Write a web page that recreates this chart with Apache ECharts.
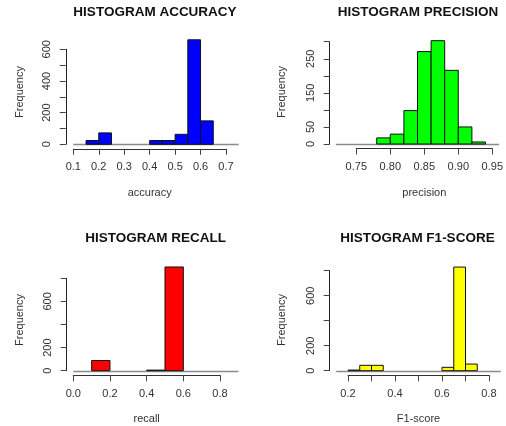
<!DOCTYPE html>
<html>
<head>
<meta charset="utf-8">
<script src="https://cdn.jsdelivr.net/npm/echarts@6/dist/echarts.min.js"></script>
<style>
html,body{margin:0;padding:0;background:#fff;}
#c{width:506px;height:426px;}
</style>
</head>
<body>
<div id="c"></div>
<script>
// ---- data ----
const accBreaks = [0.15, 0.20, 0.25, 0.30, 0.35, 0.40, 0.45, 0.50, 0.55, 0.60, 0.65];
const accCounts = [24, 72, 0, 0, 0, 24, 24, 63, 660, 148];
const accXlim = [0.1, 0.75];
const accXTicks = [0.1, 0.7, 0.1];
const accYTicks = [0, 600, 100];
const accYLabels = [0, 200, 400, 600];

const preBreaks = [0.78, 0.80, 0.82, 0.84, 0.86, 0.88, 0.90, 0.92, 0.94];
const preCounts = [18, 29, 98, 271, 303, 216, 50, 6];
const preXlim = [0.72, 0.96];
const preXTicks = [0.75, 0.95, 0.05];
const preYTicks = [0, 300, 50];
const preYLabels = [0, 50, 150, 250];

const recBreaks = [0.1, 0.2, 0.3, 0.4, 0.5, 0.6];
const recCounts = [88, 0, 0, 5, 898];
const recXlim = [0, 0.9];
const recXTicks = [0, 0.8, 0.2];
const recYTicks = [0, 800, 200];
const recYLabels = [0, 200, 600];

const f1Breaks = [0.20, 0.25, 0.30, 0.35, 0.40, 0.45, 0.50, 0.55, 0.60, 0.65, 0.70, 0.75];
const f1Counts = [5, 43, 43, 0, 0, 0, 0, 0, 27, 829, 53];
const f1Xlim = [0.15, 0.85];
const f1XTicks = [0.2, 0.8, 0.1];
const f1YTicks = [0, 800, 200];
const f1YLabels = [0, 200, 600];
const f1XLabels = [0.2, 0.4, 0.6, 0.8];

const titles = ['HISTOGRAM ACCURACY', 'HISTOGRAM PRECISION', 'HISTOGRAM RECALL', 'HISTOGRAM F1-SCORE'];
const xNames = ['accuracy', 'precision', 'recall', 'F1-score'];
const yName = 'Frequency';

// ---- layout / style ----
const panels = [
  {breaks: accBreaks, counts: accCounts, xlim: accXlim, xt: accXTicks, yt: accYTicks, yl: accYLabels, dec: 1, xl: null, color: '#0000FF',
   grid: {left: 73.3, top: 49.3, width: 152.7, height: 95}, yOff: 7.5, xOff: 4.5, title: [155, 12], freq: [20, 92]},
  {breaks: preBreaks, counts: preCounts, xlim: preXlim, xt: preXTicks, yt: preYTicks, yl: preYLabels, dec: 2, xl: null, color: '#00FF00',
   grid: {left: 356.3, top: 41.7, width: 137.4, height: 102.3}, yOff: 26.6, xOff: 4.5, title: [418, 12], freq: [281.5, 92]},
  {breaks: recBreaks, counts: recCounts, xlim: recXlim, xt: recXTicks, yt: recYTicks, yl: recYLabels, dec: 1, xl: null, color: '#FF0000',
   grid: {left: 73.3, top: 278.3, width: 146.7, height: 92.4}, yOff: 6.6, xOff: 4.5, title: [155.5, 238], freq: [20, 320]},
  {breaks: f1Breaks, counts: f1Counts, xlim: f1Xlim, xt: f1XTicks, yt: f1YTicks, yl: f1YLabels, dec: 1, xl: f1XLabels, color: '#FFFF00',
   grid: {left: 348, top: 270.7, width: 141, height: 100}, yOff: 18.3, xOff: 4.5, title: [417.5, 238], freq: [282, 320]}
];

const FONT = 'Liberation Sans, Arial, sans-serif';
const grids = [], xAxes = [], yAxes = [], series = [], graphics = [];

panels.forEach((p, i) => {
  grids.push(Object.assign({containLabel: false}, p.grid));
  xAxes.push({
    type: 'value', gridIndex: i, min: p.xt[0], max: p.xt[1], interval: p.xt[2],
    position: 'bottom', offset: p.xOff,
    axisLine: {show: true, onZero: false, lineStyle: {color: '#333', width: 1}},
    axisTick: {show: true, length: 6, lineStyle: {color: '#444'}},
    splitLine: {show: false},
    axisLabel: {
      fontSize: 11, fontFamily: FONT, color: '#333', margin: 13,
      showMinLabel: true, showMaxLabel: true,
      formatter: (v) => {
        if (p.xl && !p.xl.some(t => Math.abs(t - v) < 1e-9)) return '';
        return v.toFixed(p.dec);
      }
    },
    name: xNames[i], nameLocation: 'middle', nameGap: 38.5,
    nameTextStyle: {fontSize: 11, fontFamily: FONT, color: '#333'}
  });
  yAxes.push({
    type: 'value', gridIndex: i, min: p.yt[0], max: p.yt[1], interval: p.yt[2],
    position: 'left', offset: p.yOff,
    axisLine: {show: true, onZero: false, lineStyle: {color: '#222', width: 1}},
    axisTick: {show: true, length: 6, lineStyle: {color: '#444'}},
    splitLine: {show: false},
    axisLabel: {
      fontSize: 11, fontFamily: FONT, color: '#333', margin: 13, rotate: 90,
      showMinLabel: true, showMaxLabel: true,
      formatter: (v) => p.yl.indexOf(Math.round(v)) >= 0 ? String(Math.round(v)) : ''
    }
  });
  // grey baseline
  series.push({
    type: 'custom', xAxisIndex: i, yAxisIndex: i, clip: false, silent: true, z: 1,
    data: [[p.xlim[0], p.xlim[1]]],
    encode: {x: [0, 1]},
    renderItem: (params, api) => {
      const a = api.coord([api.value(0), 0]);
      const b = api.coord([api.value(1), 0]);
      return {type: 'line', shape: {x1: a[0], y1: Math.round(a[1]) + 0.5, x2: b[0], y2: Math.round(a[1]) + 0.5},
              style: {stroke: '#8a8a8a', lineWidth: 1.3}};
    }
  });
  // bars
  const data = [];
  for (let k = 0; k < p.counts.length; k++) {
    if (p.counts[k] > 0) data.push([p.breaks[k], p.breaks[k + 1], p.counts[k]]);
  }
  series.push({
    type: 'custom', xAxisIndex: i, yAxisIndex: i, clip: false, silent: true, z: 2,
    data: data, encode: {x: [0, 1], y: 2},
    renderItem: (params, api) => {
      const a = api.coord([api.value(0), api.value(2)]);
      const b = api.coord([api.value(1), 0]);
      return {type: 'rect', shape: {x: a[0], y: a[1], width: b[0] - a[0], height: b[1] - a[1]},
              style: {fill: p.color, stroke: '#111', lineWidth: 1}};
    }
  });
  graphics.push({
    type: 'text', x: p.title[0], y: p.title[1],
    style: {text: titles[i], fontSize: 13.5, fontWeight: 'bold', fontFamily: FONT, fill: '#111', textAlign: 'center', textVerticalAlign: 'middle'}
  });
  graphics.push({
    type: 'text', x: p.freq[0], y: p.freq[1], rotation: Math.PI / 2,
    style: {text: yName, fontSize: 11, fontFamily: FONT, fill: '#333', textAlign: 'center', textVerticalAlign: 'middle'}
  });
});

const chart = echarts.init(document.getElementById('c'), null, {renderer: 'canvas'});
chart.setOption({
  animation: false,
  backgroundColor: '#ffffff',
  grid: grids, xAxis: xAxes, yAxis: yAxes, series: series, graphic: graphics
});
</script>
</body>
</html>
